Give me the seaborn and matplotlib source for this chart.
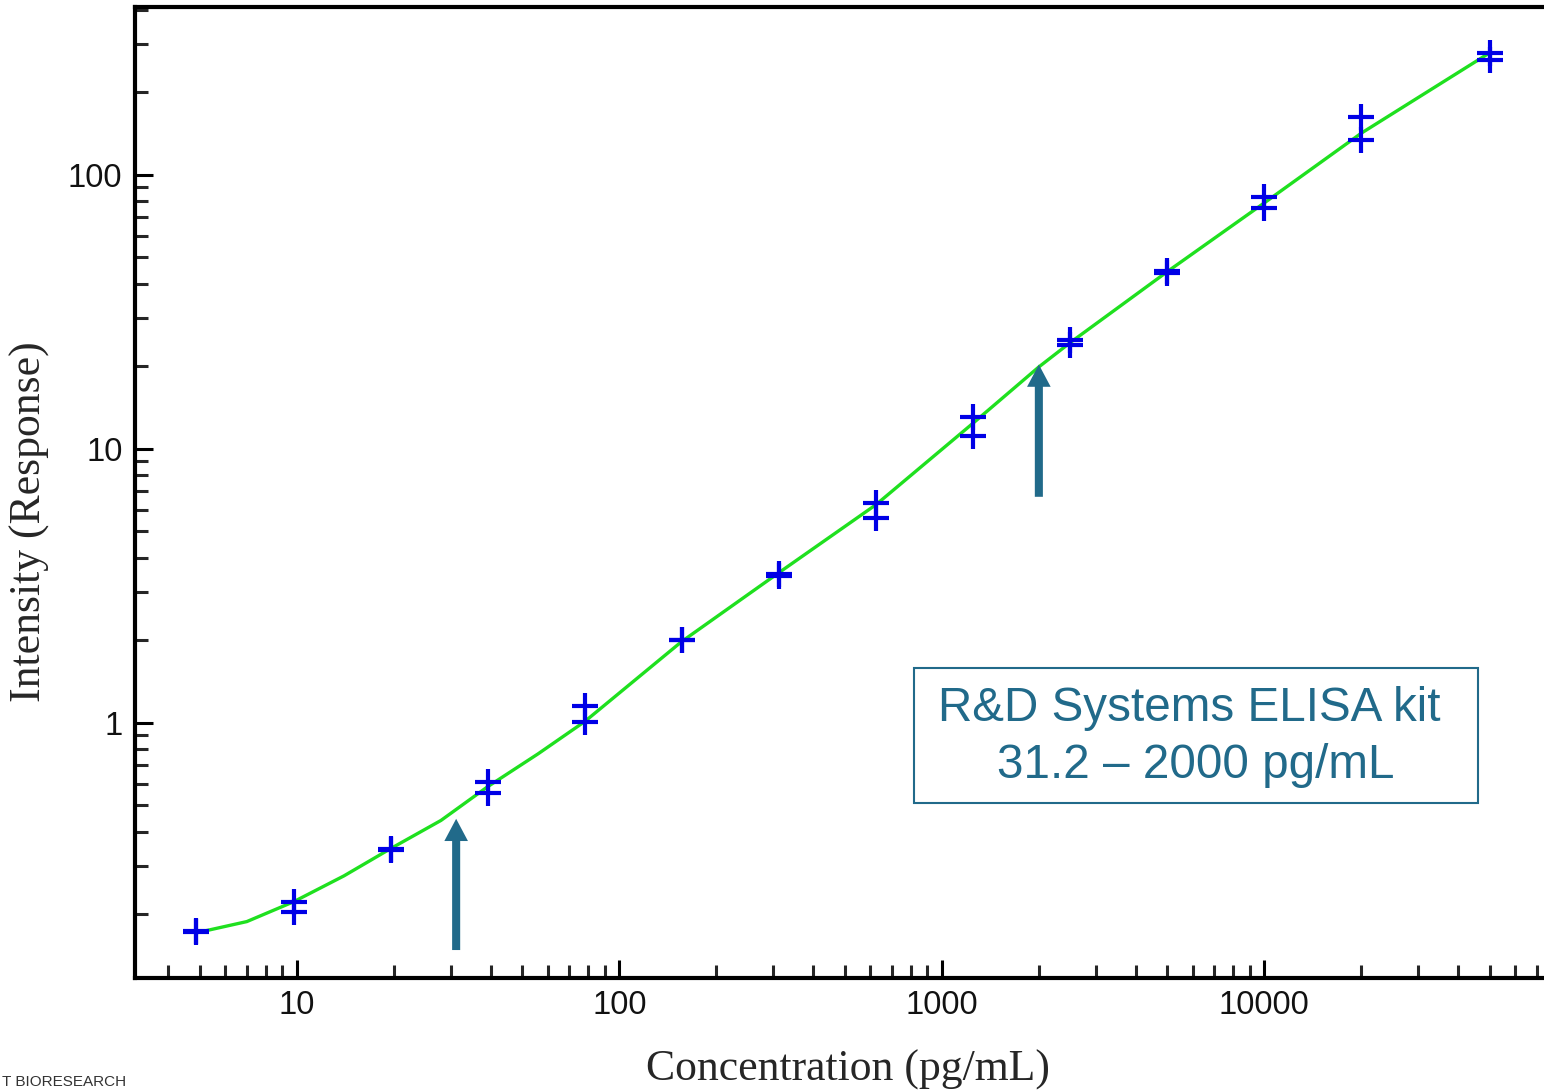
"""ELISA standard curve (log-log) with fitted line and working range arrows"""

import numpy as np
import pandas as pd
import matplotlib
matplotlib.use('Agg')
import matplotlib.pyplot as plt
from matplotlib.patches import Rectangle
from matplotlib.ticker import LogLocator, FuncFormatter, NullFormatter
import seaborn as sns

# --- data ---
CONC = [4.88, 4.88, 9.77, 9.77, 19.53, 19.53, 39.06, 39.06, 78.13, 78.13,
        156.25, 156.25, 312.5, 312.5, 625, 625, 1250, 1250, 2500, 2500,
        5000, 5000, 10000, 10000, 20000, 20000, 50000, 50000]
RESPONSE = [0.172, 0.174, 0.222, 0.204, 0.346, 0.342, 0.609, 0.555, 1.153, 1.008,
            2.01, 2.00, 3.50, 3.44, 6.35, 5.60, 13.1, 11.1, 24.9, 23.9,
            44.6, 44.0, 83.1, 75.8, 163, 134, 279, 263]

FIT_CONC = [4.88, 7, 9.77, 14, 19.53, 28, 39.06, 56, 78.13, 156.25, 312.5,
            625, 1250, 2000, 2500, 5000, 10000, 20000, 50000]
FIT_RESPONSE = [0.171, 0.188, 0.222, 0.276, 0.347, 0.44, 0.584, 0.77, 1.01,
                1.98, 3.53, 6.25, 12.4, 19.9, 24.4, 44.3, 79, 142, 279]

RANGE_LOW = 31.2
RANGE_HIGH = 2000
ARROW_LOW = (0.148, 0.446)   # (base, tip) response at RANGE_LOW
ARROW_HIGH = (6.68, 20.3)    # (base, tip) response at RANGE_HIGH

BOX_TEXT = 'R&D Systems ELISA kit \n31.2 \u2013 2000 pg/mL'
TEAL = '#216a8a'


def make_frames():
    pts = pd.DataFrame({'conc': CONC, 'resp': RESPONSE})
    fit = pd.DataFrame({'conc': FIT_CONC, 'resp': FIT_RESPONSE})
    return pts, fit


def plot_curve():
    sns.set_style('ticks')
    plt.rcParams['font.family'] = ['Liberation Sans', 'DejaVu Sans']
    pts, fit = make_frames()

    fig = plt.figure(figsize=(15.44, 10.91), dpi=100)
    ax = fig.add_axes([135 / 1544, 113 / 1091, 1437 / 1544, 971 / 1091])

    sns.lineplot(data=fit, x='conc', y='resp', color='#1fe01f', linewidth=2.4,
                 estimator=None, ax=ax, zorder=2)
    sns.scatterplot(data=pts, x='conc', y='resp', marker='+', s=340,
                    color='#0000e6', linewidth=3, ax=ax, zorder=3)

    ax.set_xscale('log')
    ax.set_yscale('log')
    ax.set_xlim(3.15, 90000)
    ax.set_ylim(0.117, 410)

    for ax_ in (ax.xaxis, ax.yaxis):
        ax_.set_major_locator(LogLocator(base=10))
        ax_.set_minor_locator(LogLocator(base=10, subs=np.arange(2, 10)))
        ax_.set_major_formatter(FuncFormatter(lambda v, p: f'{v:g}'))
        ax_.set_minor_formatter(NullFormatter())

    ax.tick_params(which='major', direction='in', length=13, width=2.2,
                   labelsize=23.5, pad=9, colors='black', labelcolor='#111111')
    ax.tick_params(which='minor', direction='in', length=9.4, width=2.2)
    ax.tick_params(top=False, right=False, which='both')
    for sp in ax.spines.values():
        sp.set_linewidth(3)
        sp.set_color('black')

    ax.set_xlabel('Concentration (pg/mL)', family=['Liberation Serif'],
                  fontsize=31.5, va='center')
    ax.xaxis.set_label_coords(0.496, -0.095)
    ax.set_ylabel('Intensity (Response)', family=['Liberation Serif'],
                  fontsize=31.5, va='center')
    ax.yaxis.set_label_coords(-0.0731, 0.4696)

    # working range arrows
    for x, (base, tip) in ((RANGE_LOW, ARROW_LOW), (RANGE_HIGH, ARROW_HIGH)):
        ax.annotate('', xy=(x, tip), xytext=(x, base),
                    arrowprops=dict(width=5.8, headwidth=17, headlength=16,
                                    shrink=0, color=TEAL, lw=0), zorder=4)

    ax.add_patch(Rectangle((779 / 1437, 0.1802), 564 / 1437, 0.1391,
                           transform=ax.transAxes, facecolor='white',
                           edgecolor=TEAL, linewidth=1.5, zorder=5))
    ax.text(1061 / 1437, 0.248, BOX_TEXT, transform=ax.transAxes, ha='center',
            va='center', multialignment='center', fontsize=34.3,
            color=TEAL, linespacing=1.35, zorder=6)

    fig.text(0.001, 0.002, 'T BIORESEARCH', va='bottom', ha='left',
             fontsize=11, color='#333333')

    fig.savefig('out.png', dpi=100)
    plt.close(fig)


if __name__ == '__main__':
    plot_curve()
